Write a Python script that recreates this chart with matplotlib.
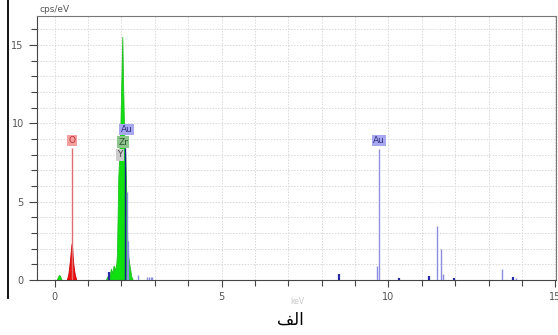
import matplotlib
matplotlib.use("Agg")
import matplotlib.pyplot as plt
from matplotlib.ticker import MultipleLocator
from matplotlib.lines import Line2D

# ---------------- data ----------------
# Green spectrum: small low-energy peak and the Zr / Y cluster
green_low_e = [0.08, 0.12, 0.15, 0.18, 0.22]
green_low_c = [0.0, 0.2, 0.3, 0.2, 0.0]
green_e = [1.55, 1.62, 1.66, 1.70, 1.74, 1.78, 1.82, 1.86, 1.88, 1.90, 1.92, 1.95,
           1.98, 2.01, 2.04, 2.07, 2.10, 2.13, 2.16, 2.19, 2.22, 2.25, 2.28, 2.31, 2.35]
green_c = [0.0, 0.3, 0.2, 0.7, 0.4, 0.9, 0.6, 1.0, 1.6, 4.0, 6.5, 8.0,
           9.5, 12.5, 15.5, 12.0, 9.0, 8.0, 5.5, 2.5, 1.5, 1.0, 0.6, 0.2, 0.0]
# Red spectrum (O)
red_e = [0.38, 0.42, 0.45, 0.48, 0.50, 0.52, 0.54, 0.56, 0.59, 0.62, 0.66]
red_c = [0.0, 0.3, 0.8, 1.4, 1.9, 2.3, 2.0, 1.3, 0.7, 0.3, 0.0]
# Blue line spectrum (Au and others)
blue_e = [1.64, 2.16, 2.20, 2.50, 2.77, 2.82, 2.88, 2.92,
          8.52, 9.65, 10.32, 11.22, 11.46, 11.58, 11.63, 11.96, 13.39, 13.72, 13.82]
blue_c = [0.5, 5.6, 2.5, 0.3, 0.2, 0.2, 0.2, 0.2,
          0.38, 0.91, 0.15, 0.28, 3.47, 2.0, 0.38, 0.1, 0.68, 0.2, 0.15]
blue_dark = [True, False, False, False, False, False, False, False,
             True, False, True, True, False, False, False, True, False, True, False]
# Element markers: name, energy, line height, label position
marker_names = ["O", "Au", "Au", "Zr", "Y"]
marker_e = [0.52, 2.12, 9.72, 2.04, 1.95]
marker_h = [8.4, 8.4, 8.36, 8.4, 7.6]
label_y = [8.9, 9.6, 8.9, 8.8, 8.0]
label_x = [0.52, 2.15, 9.72, 2.05, 1.95]

x_ticks = [0, 5, 10, 15]
y_ticks = [0, 5, 10, 15]
y_unit = "cps/eV"
x_unit = "keV"
caption = "الف"

# ---------------- figure ----------------
fig = plt.figure(figsize=(5.58, 3.35), dpi=100)
ax = fig.add_axes([37 / 558, 1 - 280 / 335, (556 - 37) / 558, (280 - 16) / 335])
ax.set_xlim(-0.53, 15.02)
ax.set_ylim(0, 16.85)

ax.xaxis.set_major_locator(MultipleLocator(5))
ax.xaxis.set_minor_locator(MultipleLocator(1))
ax.yaxis.set_major_locator(MultipleLocator(5))
ax.yaxis.set_minor_locator(MultipleLocator(1))
ax.grid(True, which="both", color="#d8d8d8", linestyle=(0, (1.5, 1.5)), linewidth=0.7)
ax.set_axisbelow(True)

ax.tick_params(axis="both", which="major", labelsize=7, labelcolor="#555555",
               color="#444444", length=6, width=0.8)
ax.tick_params(axis="both", which="minor", color="#444444", length=4, width=0.8)
ax.tick_params(axis="x", which="major", length=5, pad=4)
ax.set_xticks(x_ticks)
ax.set_yticks(y_ticks)
for s in ["left", "bottom"]:
    ax.spines[s].set_color("#444444")
    ax.spines[s].set_linewidth(0.8)
for s in ["top", "right"]:
    ax.spines[s].set_color("#777777")
    ax.spines[s].set_linewidth(0.8)

# spectra
ax.fill(green_low_e, green_low_c, color="#10e010", lw=0.6, ec="#20c020", zorder=3)
ax.fill(green_e, green_c, color="#10e010", lw=0.6, ec="#20c020", zorder=3)
ax.fill(red_e, red_c, color="#ee1010", lw=0.6, ec="#cc0000", zorder=3)
for e, c, d in zip(blue_e, blue_c, blue_dark):
    ax.vlines(e, 0, c, color="#2a2aa8" if d else "#8c8ce0", lw=1.6 if d else 1.0, zorder=4)

# marker lines and labels
mcolors = {"O": ("#e07070", "#f2a0a0", "#c03030"),
           "Au": ("#9090e6", "#a8a8f0", "#303080"),
           "Zr": ("#40a040", "#8ec48e", "#305030"),
           "Y": ("#999999", "#cccccc", "#444444")}
for name, e, h, lx, ly in zip(marker_names, marker_e, marker_h, label_x, label_y):
    lc, bg, tc = mcolors[name]
    if name == "Au" and e < 5:
        lc = "#1a1a90"
    if name in ("O", "Au"):
        ax.vlines(e, 0, h, color=lc, lw=1.0, zorder=5)
    ax.text(lx, ly, name, fontsize=6.5, color=tc, ha="center", va="center", zorder=6,
            bbox=dict(boxstyle="square,pad=0.15", fc=bg, ec="none"))

# unit labels
fig.text(40 / 558, 1 - 10 / 335, y_unit, fontsize=6.5, color="#555555", va="center", ha="left")
fig.text(297 / 558, 1 - 301 / 335, x_unit, fontsize=5.5, color="#c8c8c8", va="center", ha="center")

# Arabic caption: shape letters to presentation forms (visual order)
forms = {0: {"ا": "\ufe8d"}, 1: {"ل": "\ufedf"}, 2: {"ف": "\ufed2"}}
shaped = "".join(forms[i].get(ch, ch) for i, ch in enumerate(caption))[::-1]
fig.text(290 / 558, 1 - 320 / 335, shaped, fontsize=12, color="black",
         ha="center", va="center", family=["DejaVu Sans"])

# outer border line on the left
fig.add_artist(Line2D([8 / 558, 8 / 558], [1 - 298 / 335, 1.0],
                      transform=fig.transFigure, color="black", lw=1.3))

fig.savefig("out.png", dpi=100)
